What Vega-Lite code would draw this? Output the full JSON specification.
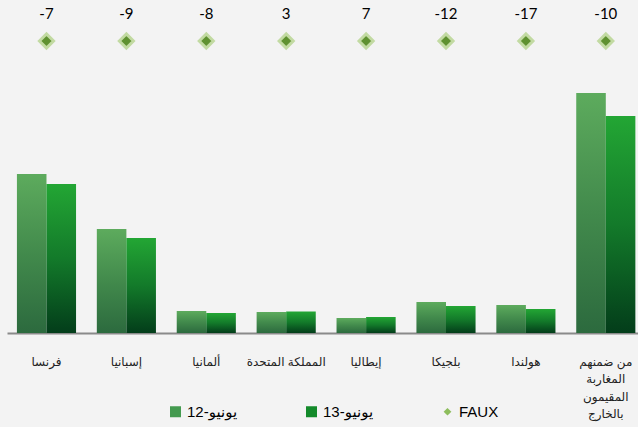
{
  "$schema": "https://vega.github.io/schema/vega-lite/v6.json",
  "width": 631,
  "height": 328,
  "autosize": {"type": "none"},
  "padding": {"left": 7, "top": 5, "right": 0, "bottom": 94},
  "background": "#f3f3f3",
  "config": {"view": {"stroke": null}, "font": "Liberation Sans, DejaVu Sans"},
  "datasets": {
    "bars": [
      {"country": "فرنسا", "series": "يونيو-12", "value": 159},
      {"country": "فرنسا", "series": "يونيو-13", "value": 149},
      {"country": "إسبانيا", "series": "يونيو-12", "value": 104},
      {"country": "إسبانيا", "series": "يونيو-13", "value": 95},
      {"country": "ألمانيا", "series": "يونيو-12", "value": 22},
      {"country": "ألمانيا", "series": "يونيو-13", "value": 20},
      {"country": "المملكة المتحدة", "series": "يونيو-12", "value": 21},
      {"country": "المملكة المتحدة", "series": "يونيو-13", "value": 21.5},
      {"country": "إيطاليا", "series": "يونيو-12", "value": 15},
      {"country": "إيطاليا", "series": "يونيو-13", "value": 16},
      {"country": "بلجيكا", "series": "يونيو-12", "value": 31},
      {"country": "بلجيكا", "series": "يونيو-13", "value": 27},
      {"country": "هولندا", "series": "يونيو-12", "value": 28},
      {"country": "هولندا", "series": "يونيو-13", "value": 24},
      {"country": "من ضمنهم\nالمغاربة\nالمقيمون\nبالخارج", "series": "يونيو-12", "value": 240},
      {"country": "من ضمنهم\nالمغاربة\nالمقيمون\nبالخارج", "series": "يونيو-13", "value": 217}
    ],
    "faux": [
      {"country": "فرنسا", "series": "FAUX", "value": 292, "change": "-7"},
      {"country": "إسبانيا", "series": "FAUX", "value": 292, "change": "-9"},
      {"country": "ألمانيا", "series": "FAUX", "value": 292, "change": "-8"},
      {"country": "المملكة المتحدة", "series": "FAUX", "value": 292, "change": "3"},
      {"country": "إيطاليا", "series": "FAUX", "value": 292, "change": "7"},
      {"country": "بلجيكا", "series": "FAUX", "value": 292, "change": "-12"},
      {"country": "هولندا", "series": "FAUX", "value": 292, "change": "-17"},
      {"country": "من ضمنهم\nالمغاربة\nالمقيمون\nبالخارج", "series": "FAUX", "value": 292, "change": "-10"}
    ]
  },
  "layer": [
    {
      "data": {"name": "bars"},
      "mark": {"type": "bar"},
      "encoding": {
        "x": {
          "field": "country", "type": "nominal", "sort": null,
          "scale": {"paddingInner": 0.26, "paddingOuter": 0.0786, "align": 0.79},
          "axis": {
            "title": null, "labelAngle": 0, "ticks": false,
            "domainColor": "#8a8a8a", "domainWidth": 2,
            "labelFontSize": 12, "labelColor": "#222222", "labelPadding": 23,
            "labelLineHeight": 17.5, "labelBaseline": "top", "labelLimit": 0,
            "labelExpr": "split(datum.label, '\\n')"
          }
        },
        "xOffset": {"field": "series", "type": "nominal", "sort": null},
        "y": {"field": "value", "type": "quantitative", "scale": {"domain": [0, 328], "nice": false}, "axis": null},
        "color": {
          "field": "series", "type": "nominal",
          "condition": [
            {"test": "datum.series === 'يونيو-12'", "value": {"gradient": "linear", "x1": 0, "y1": 0, "x2": 0, "y2": 1, "stops": [{"offset": 0, "color": "#5dab5d"}, {"offset": 0.5, "color": "#428a4c"}, {"offset": 1, "color": "#2c6a3e"}]}},
            {"test": "datum.series === 'يونيو-13'", "value": {"gradient": "linear", "x1": 0, "y1": 0, "x2": 0, "y2": 1, "stops": [{"offset": 0, "color": "#23a634"}, {"offset": 0.5, "color": "#137a2a"}, {"offset": 1, "color": "#033d1a"}]}}
          ],
          "scale": {
            "domain": ["يونيو-12", "يونيو-13", "FAUX"],
            "range": ["#449a4f", "#138a2a", "#8dbd5c"]
          },
          "legend": {
            "title": null, "orient": "none", "legendX": 161, "legendY": 399,
            "direction": "horizontal", "symbolType": "square", "symbolSize": 121,
            "symbolStrokeWidth": 0, "labelFontSize": 15, "labelColor": "#000000",
            "columnPadding": 66, "labelOffset": 4,
            "encode": {
              "symbols": {
                "update": {
                  "shape": {"signal": "datum.value === 'FAUX' ? 'diamond' : 'square'"},
                  "size": {"signal": "datum.value === 'FAUX' ? 60 : 121"}
                }
              }
            }
          }
        }
      }
    },
    {
      "data": {"name": "faux"},
      "mark": {"type": "point", "shape": "diamond", "filled": true, "size": 200, "fill": "#5f9130", "stroke": "#c2daa2", "strokeWidth": 3, "opacity": 1},
      "encoding": {
        "x": {"field": "country", "type": "nominal", "sort": null},
        "y": {"field": "value", "type": "quantitative"}
      }
    },
    {
      "data": {"name": "faux"},
      "mark": {"type": "text", "dy": -27, "fontSize": 15, "font": "Lato", "color": "#000000", "baseline": "middle"},
      "encoding": {
        "x": {"field": "country", "type": "nominal", "sort": null},
        "y": {"field": "value", "type": "quantitative"},
        "text": {"field": "change"}
      }
    }
  ]
}
